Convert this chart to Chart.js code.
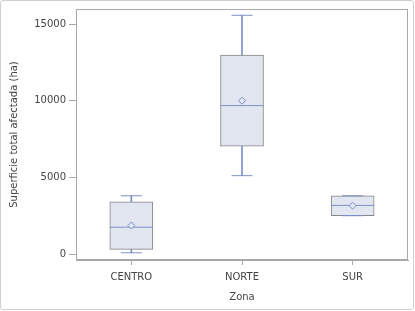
<!DOCTYPE html>
<html>
<head>
<meta charset="utf-8">
<script src="https://cdn.jsdelivr.net/npm/chart.js@4"></script>
<style>
  html, body { margin: 0; padding: 0; background: #fff; }
  #wrap { position: relative; width: 415px; height: 311px; }
  #frame { position: absolute; left: 0; top: 0; width: 412px; height: 308px; border: 1px solid #cfcfcf; border-radius: 3px; pointer-events: none; }
</style>
</head>
<body>
<div id="wrap">
  <canvas id="box-zona" width="415" height="311"></canvas>
  <div id="frame"></div>
</div>
<script>
// box plot values per zone (ha)
const zonas = ["CENTRO", "NORTE", "SUR"];
const minimo = [80, 5110, 2500];
const q1 = [300, 7030, 2500];
const mediana = [1750, 9680, 3170];
const media = [1860, 10000, 3150];
const q3 = [3410, 12980, 3800];
const maximo = [3800, 15570, 3800];
const yTicks = [0, 5000, 10000, 15000];

const AZUL = "#7d91c9";
const RELLENO = "#e1e6f0";
const GRIS = "#858585";
const EJE = "#a8a8a8";
const TEXTO = "#444444";

// frame around the plot area (top and right sides)
const marco = {
  id: "marco",
  afterDraw(chart) {
    const a = chart.chartArea;
    const ctx = chart.ctx;
    ctx.save();
    ctx.strokeStyle = EJE;
    ctx.lineWidth = 1;
    ctx.strokeRect(Math.round(a.left) + 0.5, Math.round(a.top) + 0.5,
      Math.round(a.right - a.left) - 1, Math.round(a.bottom - a.top) - 1);
    ctx.restore();
  }
};

let ctx = document.getElementById("box-zona").getContext("2d");
new Chart(ctx, {
  type: "bar",
  data: {
    labels: zonas,
    datasets: [
      {
        label: "bigote sup",
        data: zonas.map((z, i) => [q3[i], maximo[i]]),
        backgroundColor: AZUL,
        barThickness: 1,
        grouped: false,
        order: 6,
      },
      {
        label: "bigote inf",
        data: zonas.map((z, i) => [minimo[i], q1[i]]),
        backgroundColor: AZUL,
        barThickness: 1,
        grouped: false,
        order: 6,
      },
      {
        label: "caja",
        data: zonas.map((z, i) => [q1[i], q3[i]]),
        backgroundColor: RELLENO,
        borderColor: GRIS,
        borderWidth: 1,
        borderSkipped: false,
        barThickness: 43,
        grouped: false,
        order: 5,
      },
      {
        type: "line",
        label: "mediana",
        data: mediana,
        showLine: false,
        pointStyle: "line",
        pointRadius: 21.5,
        pointBorderWidth: 1,
        borderColor: AZUL,
        order: 3,
      },
      {
        type: "line",
        label: "max",
        data: maximo,
        showLine: false,
        pointStyle: "line",
        pointRadius: 10.5,
        pointBorderWidth: 1,
        borderColor: AZUL,
        order: 2,
      },
      {
        type: "line",
        label: "min",
        data: minimo,
        showLine: false,
        pointStyle: "line",
        pointRadius: 10.5,
        pointBorderWidth: 1,
        borderColor: AZUL,
        order: 2,
      },
      {
        type: "line",
        label: "media",
        data: media,
        showLine: false,
        pointStyle: "rectRot",
        pointRadius: 3.5,
        pointBorderWidth: 1,
        pointBackgroundColor: RELLENO,
        borderColor: AZUL,
        order: 1,
      },
    ],
  },
  options: {
    responsive: false,
    animation: false,
    layout: { autoPadding: false, padding: { top: 7, right: 7, bottom: 8, left: 0 } },
    plugins: { legend: { display: false }, tooltip: { enabled: false } },
    scales: {
      x: {
        type: "category",
        offset: true,
        grid: { display: true, drawOnChartArea: false, offset: false, tickLength: 5, color: EJE },
        border: { display: true, color: EJE },
        ticks: { color: TEXTO, padding: 6, font: { family: "DejaVu Sans", size: 10 } },
        title: { display: true, text: "Zona", color: TEXTO, padding: { top: 2, bottom: 0 }, font: { family: "DejaVu Sans", size: 10 } },
      },
      y: {
        min: -390,
        max: 15980,
        afterBuildTicks: (s) => { s.ticks = yTicks.map((v) => ({ value: v })); },
        afterFit: (s) => { s.width = 76; },
        grid: { display: true, drawOnChartArea: false, tickLength: 7, color: EJE },
        border: { display: true, color: EJE },
        ticks: { color: TEXTO, padding: 3, callback: (v) => String(v), font: { family: "DejaVu Sans", size: 10 } },
        title: { display: true, text: "Superficie total afectada (ha)", color: TEXTO, padding: { top: 8, bottom: 0 }, font: { family: "DejaVu Sans", size: 10 } },
      },
    },
  },
  plugins: [marco],
});
</script>
</body>
</html>
